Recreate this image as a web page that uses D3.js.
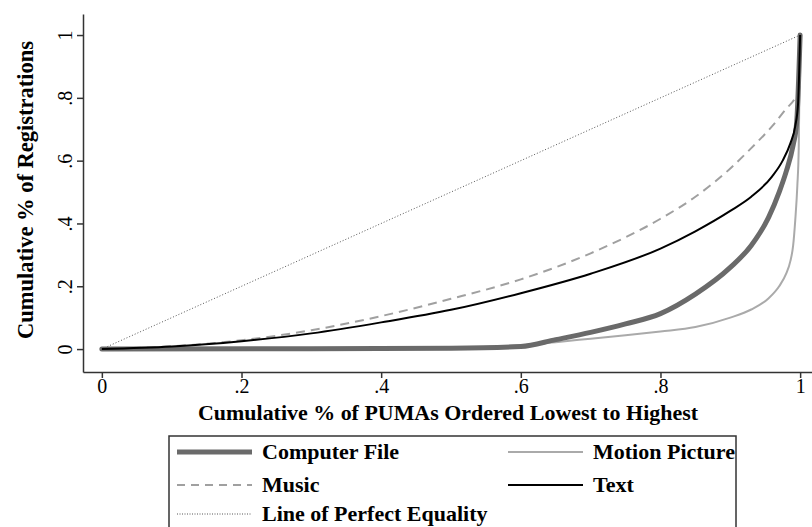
<!DOCTYPE html>
<html>
<head>
<meta charset="utf-8">
<script src="https://cdn.jsdelivr.net/npm/d3@7"></script>
<style>
  html, body { margin: 0; padding: 0; background: #fff; }
  svg { display: block; }
  text { font-family: "Liberation Serif", "Times New Roman", serif; fill: #000; }
</style>
</head>
<body>
<svg id="chart" width="812" height="527"></svg>
<script>
// ---- data ----
const xTicks = [0, 0.2, 0.4, 0.6, 0.8, 1];
const yTicks = [0, 0.2, 0.4, 0.6, 0.8, 1];
const tickLabels = ["0", ".2", ".4", ".6", ".8", "1"];

const equalityX = [0, 1];
const equalityY = [0, 1];

const musicX = [0, 0.1, 0.2, 0.3, 0.4, 0.5, 0.6, 0.7, 0.8, 0.85, 0.9, 0.93, 0.96, 0.98, 0.993, 0.999, 1];
const musicY = [0, 0.009, 0.028, 0.06, 0.105, 0.16, 0.222, 0.305, 0.415, 0.485, 0.575, 0.64, 0.71, 0.765, 0.80, 0.83, 1];

const textX = [0, 0.1, 0.2, 0.3, 0.4, 0.5, 0.6, 0.7, 0.8, 0.85, 0.9, 0.93, 0.96, 0.975, 0.986, 0.993, 0.997, 1];
const textY = [0, 0.008, 0.025, 0.05, 0.085, 0.125, 0.178, 0.24, 0.32, 0.375, 0.44, 0.485, 0.55, 0.60, 0.655, 0.71, 0.78, 1];

const computerX = [0, 0.3, 0.5, 0.6, 0.65, 0.7, 0.75, 0.8, 0.85, 0.9, 0.93, 0.955, 0.97, 0.98, 0.99, 0.995, 1];
const computerY = [0, 0.001, 0.003, 0.008, 0.03, 0.053, 0.08, 0.113, 0.175, 0.26, 0.33, 0.42, 0.50, 0.565, 0.65, 0.72, 1];

const motionX = [0, 0.5, 0.6, 0.65, 0.7, 0.75, 0.8, 0.85, 0.9, 0.93, 0.955, 0.97, 0.98, 0.986, 0.99, 0.993, 0.996, 0.998, 1];
const motionY = [0, 0.005, 0.012, 0.022, 0.033, 0.044, 0.056, 0.07, 0.10, 0.126, 0.162, 0.20, 0.24, 0.28, 0.33, 0.41, 0.52, 0.64, 1];

const seriesNames = ["Computer File", "Motion Picture", "Music", "Text", "Line of Perfect Equality"];

// ---- chart ----
const svg = d3.select("#chart");
const x = d3.scaleLinear().domain([-0.027, 1.017]).range([83, 812]);
const y = d3.scaleLinear().domain([-0.073, 1.067]).range([372, 14]);
const fmt = v => tickLabels[xTicks.indexOf(v)];

// axes
const yAxis = svg.append("g").attr("transform", "translate(83,0)")
  .call(d3.axisLeft(y).tickValues(yTicks).tickSize(6).tickSizeOuter(0).tickFormat(fmt));
yAxis.select(".domain").attr("stroke", "#333").attr("stroke-width", 1.5);
yAxis.selectAll(".tick line").attr("stroke", "#333").attr("stroke-width", 1.5);
yAxis.selectAll(".tick text")
  .attr("x", null).attr("dy", null)
  .attr("transform", "translate(-11,0) rotate(-90)")
  .attr("text-anchor", "middle")
  .attr("y", 0)
  .style("font-family", "'Liberation Serif', serif")
  .style("font-size", "20px");

const xAxis = svg.append("g").attr("transform", "translate(0,372)")
  .call(d3.axisBottom(x).tickValues(xTicks).tickSize(6).tickSizeOuter(0).tickFormat(fmt));
xAxis.select(".domain").attr("stroke", "#333").attr("stroke-width", 1.5);
xAxis.selectAll(".tick line").attr("stroke", "#333").attr("stroke-width", 1.5);
xAxis.selectAll(".tick text")
  .attr("dy", null).attr("y", 21)
  .style("font-family", "'Liberation Serif', serif")
  .style("font-size", "20px");

// axis titles
svg.append("text")
  .attr("x", 198).attr("y", 420)
  .attr("textLength", 500).attr("lengthAdjust", "spacingAndGlyphs")
  .style("font-size", "22px").style("font-weight", "bold")
  .text("Cumulative % of PUMAs Ordered Lowest to Highest");

svg.append("text")
  .attr("transform", "translate(33,190) rotate(-90)")
  .attr("text-anchor", "middle")
  .style("font-size", "22.5px").style("font-weight", "bold")
  .text("Cumulative % of Registrations");

// lines
const mk = (xs, ys) => xs.map((v, i) => [v, ys[i]]);
const line = d3.line().x(d => x(d[0])).y(d => y(d[1])).curve(d3.curveMonotoneX);
const plot = svg.append("g").attr("fill", "none").attr("stroke-linejoin", "round");

plot.append("path").attr("d", line(mk(equalityX, equalityY)))
  .attr("stroke", "#555").attr("stroke-width", 1).attr("stroke-dasharray", "1,2");
plot.append("path").attr("d", line(mk(musicX, musicY)))
  .attr("stroke", "#a0a0a0").attr("stroke-width", 2).attr("stroke-dasharray", "9,6");
plot.append("path").attr("d", line(mk(motionX, motionY)))
  .attr("stroke", "#aaaaaa").attr("stroke-width", 2);
plot.append("path").attr("d", line(mk(computerX, computerY)))
  .attr("stroke", "#6a6a6a").attr("stroke-width", 5).attr("stroke-linecap", "round");
plot.append("path").attr("d", line(mk(textX, textY)))
  .attr("stroke", "#000").attr("stroke-width", 2);

// legend
const lg = svg.append("g");
lg.append("rect").attr("x", 169).attr("y", 436).attr("width", 567).attr("height", 130)
  .attr("fill", "none").attr("stroke", "#333").attr("stroke-width", 1.5);

const legendItems = [
  { name: seriesNames[0], col: 0, row: 0, stroke: "#6a6a6a", w: 5, dash: null },
  { name: seriesNames[1], col: 1, row: 0, stroke: "#aaaaaa", w: 2, dash: null },
  { name: seriesNames[2], col: 0, row: 1, stroke: "#a0a0a0", w: 2, dash: "8,6" },
  { name: seriesNames[3], col: 1, row: 1, stroke: "#000", w: 2, dash: null },
  { name: seriesNames[4], col: 0, row: 2, stroke: "#555", w: 1, dash: "1,1.5" }
];
const colX = [177, 508];
const rowY = [452, 485, 514];
legendItems.forEach(it => {
  const x0 = colX[it.col], yy = rowY[it.row];
  const l = lg.append("line").attr("x1", x0).attr("x2", x0 + 75)
    .attr("y1", yy).attr("y2", yy)
    .attr("stroke", it.stroke).attr("stroke-width", it.w);
  if (it.dash) l.attr("stroke-dasharray", it.dash);
  lg.append("text").attr("x", x0 + 85).attr("y", yy + 7)
    .style("font-size", "22px").style("font-weight", "bold")
    .text(it.name);
});
</script>
</body>
</html>
